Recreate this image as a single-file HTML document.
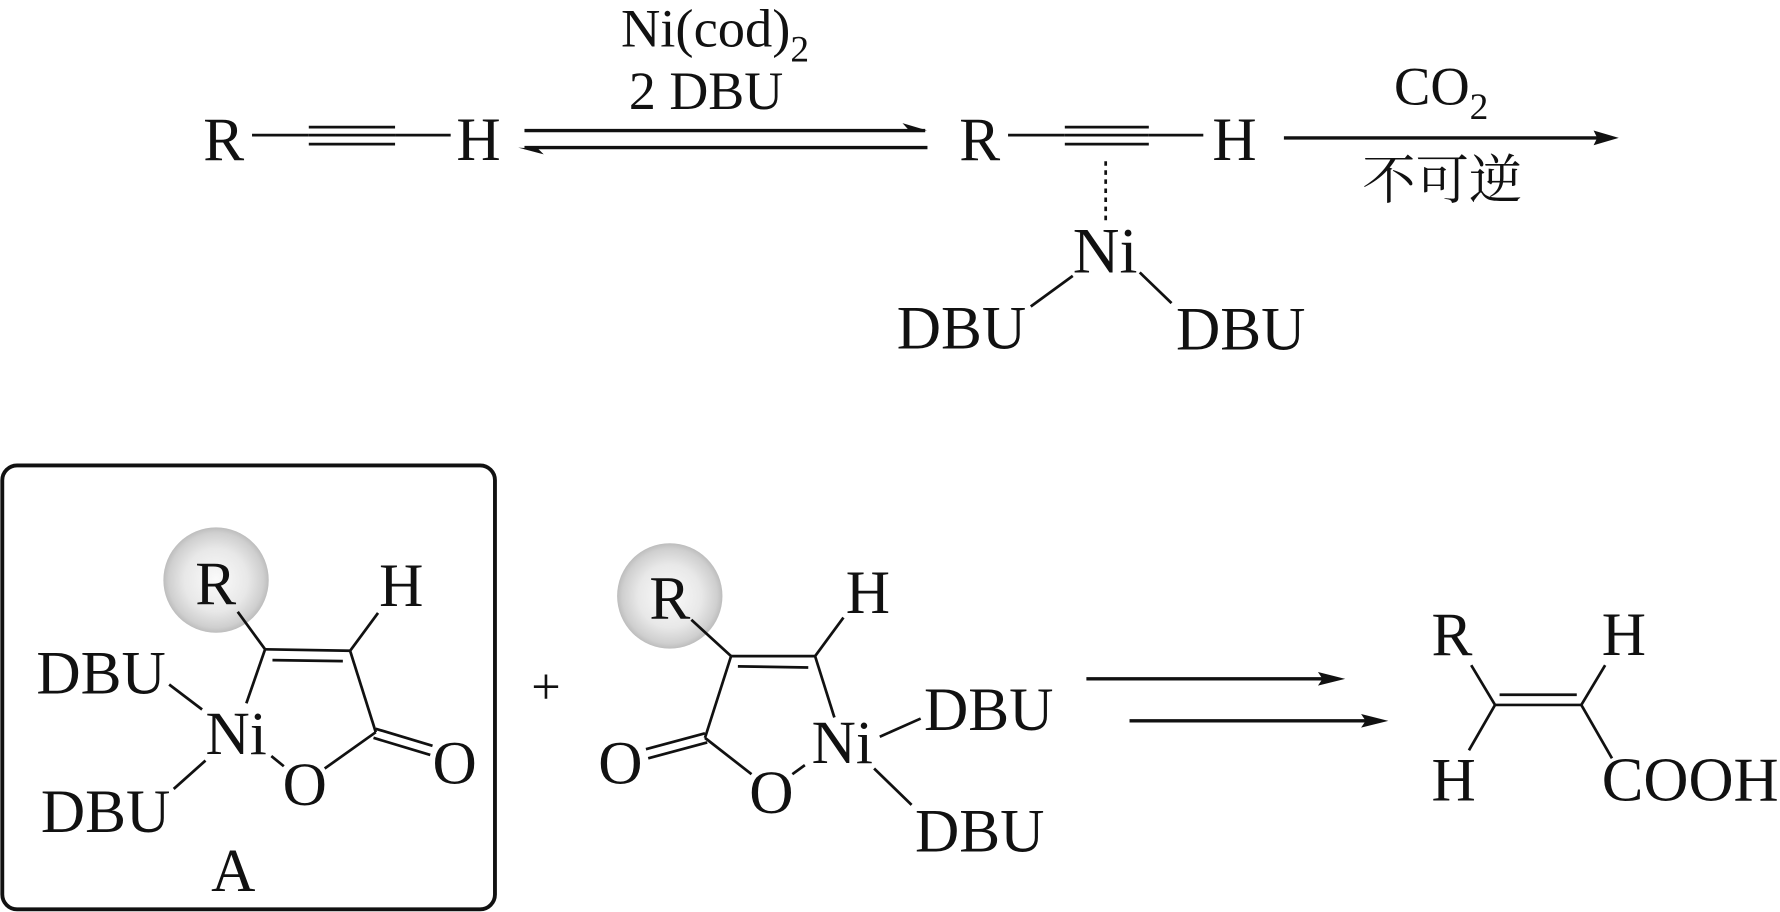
<!DOCTYPE html>
<html><head><meta charset="utf-8"><style>
html,body{margin:0;padding:0;background:#fff;width:1780px;height:912px;overflow:hidden}
svg{display:block}
text{font-family:"Liberation Serif","Noto Serif CJK SC",serif;fill:#111}
line,polyline{stroke:#111;stroke-width:2.4;fill:none}
</style></head><body>
<svg width="1780" height="912" viewBox="0 0 1568 803.4" xmlns="http://www.w3.org/2000/svg">
<defs><radialGradient id="g" cx="50%" cy="50%" r="50%"><stop offset="0" stop-color="#fbfbfb"/><stop offset=".6" stop-color="#e8e8e8"/><stop offset=".9" stop-color="#cfcfcf"/><stop offset="1" stop-color="#bdbdbd"/></radialGradient></defs>
<g font-size="54">
<text x="179" y="141">R</text><text x="402" y="141">H</text>
<line x1="222" y1="119" x2="272" y2="119"/><line x1="272" y1="112" x2="348" y2="112"/><line x1="272" y1="119" x2="348" y2="119"/><line x1="272" y1="127" x2="348" y2="127"/><line x1="348" y1="119" x2="397" y2="119"/>
<text x="547" y="41" font-size="48">Ni(cod)<tspan font-size="33" dy="13">2</tspan></text>
<text x="554" y="96" font-size="47.5">2 DBU</text>
<line x1="462" y1="115" x2="815" y2="115" style="stroke-width:3"/><polygon points="817,115 795,108.5 800,114" fill="#111"/>
<line x1="462" y1="130" x2="817" y2="130" style="stroke-width:3"/><polygon points="456.5,130 479,136 474,131" fill="#111"/>
<text x="845" y="141">R</text><text x="1068" y="141">H</text>
<line x1="888" y1="119" x2="938" y2="119"/><line x1="938" y1="112" x2="1012" y2="112"/><line x1="938" y1="119" x2="1012" y2="119"/><line x1="938" y1="127" x2="1012" y2="127"/><line x1="1012" y1="119" x2="1060" y2="119"/>
<line x1="974" y1="142" x2="974" y2="197" stroke-dasharray="4 4"/>
<text x="945" y="240" font-size="57">Ni</text>
<line x1="945" y1="243" x2="908" y2="270"/><line x1="1004" y1="240" x2="1032" y2="267"/>
<text x="790" y="307" font-size="54">DBU</text><text x="1036" y="308" font-size="54">DBU</text>
<line x1="1131" y1="121.5" x2="1408" y2="121.5" style="stroke-width:3"/><polygon points="1426,121.5 1403.8,115 1407,121.5 1403.8,128" fill="#111"/>
<text x="1228" y="92" font-size="48">CO<tspan font-size="33" dy="13">2</tspan></text>
<text x="1200" y="175" font-size="47">不可逆</text>
<rect x="2" y="410" width="434" height="391" rx="13" fill="none" stroke="#111" stroke-width="3.4"/>
<circle cx="190.3" cy="511" r="46.4" fill="url(#g)"/>
<text x="172" y="532">R</text><text x="334" y="534">H</text>
<text x="32" y="611" font-size="54">DBU</text><text x="181" y="664">Ni</text>
<text x="36" y="733" font-size="54">DBU</text><text x="249" y="709">O</text><text x="381" y="690">O</text>
<text x="186" y="785">A</text>
<line x1="209.4" y1="539" x2="233.5" y2="572"/><line x1="233.5" y1="572" x2="308.4" y2="573.3"/><line x1="240" y1="581.5" x2="302" y2="582.4"/>
<line x1="308.4" y1="573.3" x2="333" y2="540"/><line x1="233.5" y1="572" x2="217" y2="619.6"/><line x1="308.4" y1="573.3" x2="331" y2="645"/>
<line x1="331" y1="645" x2="286" y2="677"/><line x1="331" y1="642" x2="381" y2="657"/><line x1="329" y1="650" x2="379" y2="665"/>
<line x1="149" y1="603" x2="178" y2="625"/><line x1="181" y1="670" x2="153" y2="695"/><line x1="239" y1="666" x2="250" y2="675"/>
<text x="468" y="620" font-size="46">+</text>
<circle cx="590" cy="525" r="46.4" fill="url(#g)"/>
<text x="572" y="545">R</text><text x="745" y="540">H</text>
<text x="814" y="643" font-size="54">DBU</text><text x="715" y="672">Ni</text>
<text x="806" y="750" font-size="54">DBU</text><text x="660" y="716">O</text><text x="527" y="690">O</text>
<line x1="609" y1="546" x2="644" y2="578"/><line x1="644" y1="578" x2="718" y2="578"/><line x1="650" y1="587" x2="712" y2="588"/>
<line x1="718" y1="578" x2="743" y2="544"/><line x1="718" y1="578" x2="735" y2="632"/><line x1="644" y1="578" x2="621" y2="650"/>
<line x1="621" y1="650" x2="662" y2="682"/><line x1="621" y1="646" x2="569" y2="660"/><line x1="623" y1="654" x2="571" y2="668"/>
<line x1="698" y1="682" x2="709" y2="674"/><line x1="775" y1="649" x2="811" y2="633"/><line x1="770" y1="677" x2="803" y2="709"/>
<line x1="957" y1="598" x2="1168" y2="598" style="stroke-width:3"/><polygon points="1185,598 1161,592 1165,598 1161,604" fill="#111"/>
<line x1="995" y1="635" x2="1206" y2="635" style="stroke-width:3"/><polygon points="1223,635 1199,629 1203,635 1199,641" fill="#111"/>
<text x="1261" y="577">R</text><text x="1411" y="577">H</text><text x="1261" y="705">H</text>
<text x="1411" y="705" font-size="55">COOH</text>
<line x1="1317" y1="621" x2="1393" y2="621"/><line x1="1321" y1="612" x2="1389" y2="612"/>
<line x1="1317" y1="621" x2="1296" y2="586"/><line x1="1317" y1="621" x2="1294" y2="661"/>
<line x1="1393" y1="621" x2="1414" y2="586"/><line x1="1393" y1="621" x2="1420" y2="668"/>
</g>
</svg>
</body></html>
